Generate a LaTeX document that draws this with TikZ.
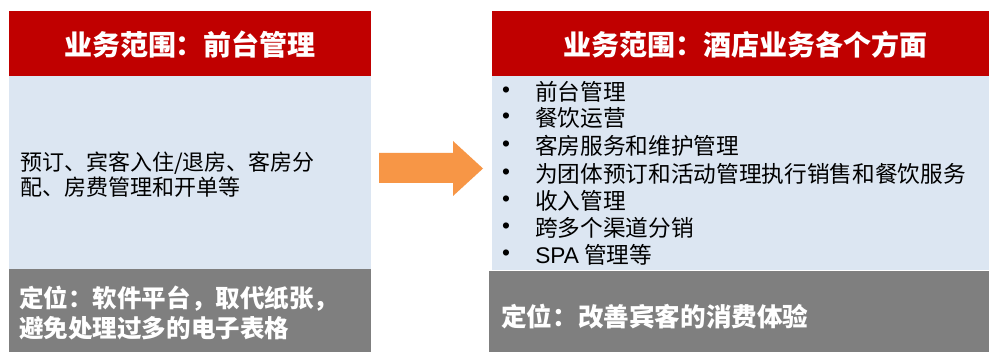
\documentclass[tikz,border=0pt]{standalone}
\usepackage{fontspec}
\newfontfamily\cjk{Noto Sans CJK SC}
\newfontfamily\lat{Liberation Sans}
\definecolor{hdrred}{HTML}{C00000}
\definecolor{bodyblue}{HTML}{DCE6F2}
\definecolor{footgray}{HTML}{7F7F7F}
\definecolor{arroworange}{HTML}{F79646}
\begin{document}
\begin{tikzpicture}[x=0.75pt,y=-0.75pt,
  hdrtext/.style={text=white,font=\cjk\bfseries\fontsize{21pt}{24pt}\selectfont,inner sep=0pt},
  bodytext/.style={text=black,font=\cjk\fontsize{16.5pt}{18.75pt}\selectfont,inner sep=0pt,align=left},
  foottext/.style={text=white,font=\cjk\bfseries\fontsize{18.4pt}{22.5pt}\selectfont,inner sep=0pt,align=left},
  itemtext/.style={text=black,font=\cjk\fontsize{17pt}{20pt}\selectfont,inner sep=0pt,anchor=west},
  bullettext/.style={text=black,font=\lat\fontsize{17pt}{20pt}\selectfont,inner sep=0pt,anchor=center}]
\useasboundingbox (0,0) rectangle (989,352);
\fill[white] (0,0) rectangle (989,352);
% left panel
\fill[hdrred] (9,11) rectangle (371,76);
\fill[bodyblue] (9,76) rectangle (371,269);
\fill[footgray] (9,269) rectangle (371,352);
\node[hdrtext] (lhead) at (190,45) {业务范围：前台管理};
\node[bodytext,anchor=west] (lbody) at (20,174.5) {预订、宾客入住/退房、客房分\\配、房费管理和开单等};
\node[foottext,anchor=west] (lfoot) at (19,313) {定位：软件平台，取代纸张，\\避免处理过多的电子表格};
% arrow
\fill[arroworange] (379,153) -- (453,153) -- (453,141) -- (483,168.5) -- (453,196) -- (453,183) -- (379,183) -- cycle;
% right panel
\fill[hdrred] (492,11) rectangle (989,76);
\fill[bodyblue] (492,76) rectangle (989,270);
\fill[footgray] (489,271) rectangle (989,352);
\node[hdrtext] (rhead) at (745,45) {业务范围：酒店业务各个方面};
\foreach \i/\y/\t in {1/92/前台管理,2/118/餐饮运营,3/146/客房服务和维护管理,4/174/为团体预订和活动管理执行销售和餐饮服务,5/201/收入管理,6/228/跨多个渠道分销,7/255/{{\lat SPA} 管理等}}{
  \node[bullettext] (bul\i) at (506,\y) {•};
  \node[itemtext] (item\i) at (535,\y) {\t};
}
\node[foottext,anchor=west,font=\cjk\bfseries\fontsize{19.2pt}{22pt}\selectfont] (rfoot) at (501,317) {定位：改善宾客的消费体验};
\end{tikzpicture}
\end{document}
